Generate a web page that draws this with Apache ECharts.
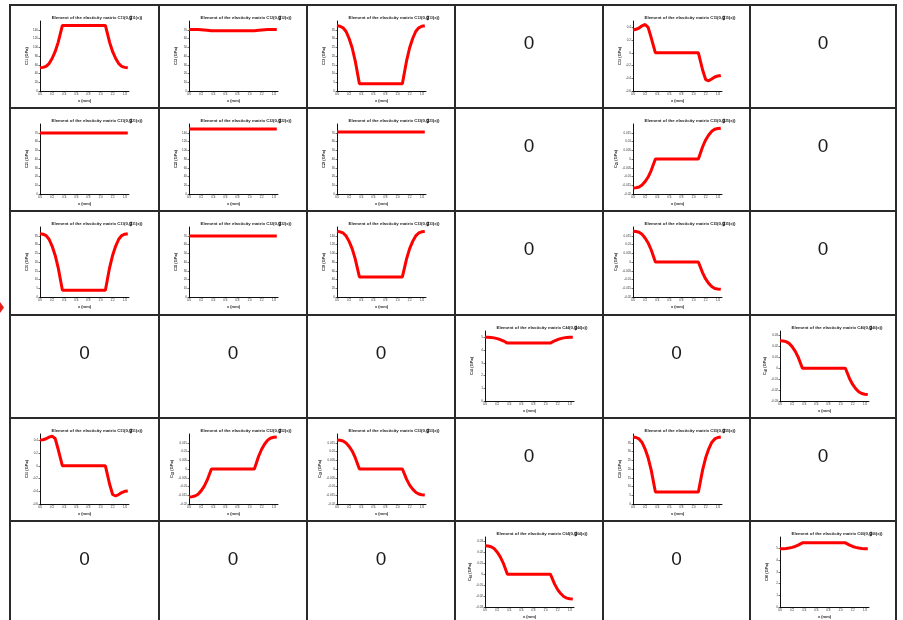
<!DOCTYPE html>
<html><head><meta charset="utf-8">
<script src="https://cdn.jsdelivr.net/npm/echarts@6/dist/echarts.min.js"></script>
<style>html,body{margin:0;padding:0;background:#fff}#c{width:903px;height:620px}</style>
</head><body><div id="c"></div>
<script>
// x positions (mm)
const xValues = [0, 0.05, 0.1, 0.15, 0.2, 0.25, 0.3, 0.37, 0.5, 0.6, 0.7, 0.8, 0.9, 1.0, 1.08, 1.15, 1.2, 1.25, 1.3, 1.35, 1.4, 1.45];
const xTickLabels = ['0.0','0.2','0.4','0.6','0.8','1.0','1.2','1.4'];

// matrix elements (GPa)
const c11 = [53, 54.0, 56.4, 62.7, 74.3, 89.9, 111.2, 150, 150, 150, 150, 150, 150, 150, 150, 111.2, 89.9, 74.3, 62.7, 56.4, 54.0, 53];
const c12 = [70.4, 70.4, 70.35, 70.25, 70.07, 69.83, 69.5, 68.9, 68.9, 68.9, 68.9, 68.9, 68.9, 68.9, 68.9, 69.5, 69.83, 70.07, 70.25, 70.35, 70.4, 70.4];
const c13 = [37.3, 37.0, 36.1, 34.0, 30.0, 24.7, 17.4, 4.2, 4.2, 4.2, 4.2, 4.2, 4.2, 4.2, 4.2, 17.4, 24.7, 30.0, 34.0, 36.1, 37.0, 37.3];
const c15 = [0.36, 0.37, 0.39, 0.425, 0.445, 0.40, 0.24, 0, 0, 0, 0, 0, 0, 0, 0, -0.27, -0.42, -0.44, -0.41, -0.38, -0.365, -0.355];
const c21 = [69.8, 69.8, 69.8, 69.8, 69.8, 69.7, 69.7, 69.7, 69.7, 69.7, 69.7, 69.7, 69.7, 69.7, 69.7, 69.7, 69.7, 69.8, 69.8, 69.8, 69.8, 69.8];
const c22 = [148.7, 148.7, 148.7, 148.7, 148.7, 148.6, 148.6, 148.6, 148.6, 148.6, 148.6, 148.6, 148.6, 148.6, 148.6, 148.6, 148.6, 148.7, 148.7, 148.7, 148.7, 148.7];
const c23 = [70.9, 70.9, 70.9, 70.9, 71.0, 71.0, 71.0, 71.0, 71.0, 71.0, 71.0, 71.0, 71.0, 71.0, 71.0, 71.0, 70.9, 70.9, 70.9, 70.9, 70.9, 70.9];
const c25 = [-0.0166, -0.0164, -0.016, -0.0149, -0.0129, -0.0103, -0.0066, 0, 0, 0, 0, 0, 0, 0, 0, 0.007, 0.0109, 0.0137, 0.0158, 0.017, 0.0174, 0.0176];
const c31 = [36.2, 35.9, 35.1, 33.0, 29.1, 23.9, 16.8, 3.8, 3.8, 3.8, 3.8, 3.8, 3.8, 3.8, 3.8, 16.8, 23.9, 29.1, 33.0, 35.1, 35.9, 36.2];
const c32 = [69.8, 69.8, 69.8, 69.7, 69.7, 69.7, 69.7, 69.7, 69.7, 69.7, 69.7, 69.7, 69.7, 69.7, 69.6, 69.6, 69.6, 69.6, 69.6, 69.6, 69.6, 69.6];
const c33 = [150, 149.0, 146.4, 139.6, 127.1, 110.5, 87.6, 46, 46, 46, 46, 46, 46, 46, 46, 87.6, 110.5, 127.1, 139.6, 146.4, 149.0, 150];
const c35 = [0.0176, 0.0174, 0.017, 0.0158, 0.0137, 0.0109, 0.007, 0, 0, 0, 0, 0, 0, 0, 0, -0.0062, -0.0097, -0.0122, -0.014, -0.0151, -0.0154, -0.0156];
const c44 = [5.0, 5.0, 4.98, 4.96, 4.90, 4.83, 4.73, 4.55, 4.55, 4.55, 4.55, 4.55, 4.55, 4.55, 4.55, 4.73, 4.83, 4.90, 4.96, 4.98, 5.0, 5.0];
const c46 = [0.0252, 0.0249, 0.0243, 0.0227, 0.0197, 0.0156, 0.0101, 0, 0, 0, 0, 0, 0, 0, 0, -0.0096, -0.0149, -0.0187, -0.0216, -0.0232, -0.0238, -0.024];
const c51 = [0.405, 0.41, 0.425, 0.45, 0.467, 0.43, 0.26, 0, 0, 0, 0, 0, 0, 0, 0, -0.29, -0.45, -0.475, -0.45, -0.42, -0.40, -0.395];
const c52 = [-0.016, -0.0158, -0.0154, -0.0144, -0.0125, -0.0099, -0.0064, 0, 0, 0, 0, 0, 0, 0, 0, 0.0073, 0.0113, 0.0143, 0.0165, 0.0177, 0.0181, 0.0183];
const c53 = [0.0166, 0.0164, 0.016, 0.0149, 0.0129, 0.0103, 0.0066, 0, 0, 0, 0, 0, 0, 0, 0, -0.0059, -0.0092, -0.0115, -0.0133, -0.0143, -0.0147, -0.0148];
const c55 = [38.3, 38.0, 37.2, 35.2, 31.4, 26.4, 19.5, 6.9, 6.9, 6.9, 6.9, 6.9, 6.9, 6.9, 6.9, 19.5, 26.4, 31.4, 35.2, 37.2, 38.0, 38.3];
const c64 = [0.026, 0.0257, 0.0251, 0.0234, 0.0203, 0.0161, 0.0104, 0, 0, 0, 0, 0, 0, 0, 0, -0.0091, -0.0141, -0.0177, -0.0204, -0.0219, -0.0225, -0.0227];
const c66 = [5.0, 5.0, 5.02, 5.05, 5.11, 5.19, 5.3, 5.5, 5.5, 5.5, 5.5, 5.5, 5.5, 5.5, 5.5, 5.3, 5.19, 5.11, 5.05, 5.02, 5.0, 5.0];

// which cells hold a plot (row, col, index, data, y range)
const plots = [
  {r:0,c:0,id:'11',d:c11,min:0,max:160,iv:20},
  {r:0,c:1,id:'12',d:c12,min:0,max:80,iv:10},
  {r:0,c:2,id:'13',d:c13,min:0,max:40,iv:5},
  {r:0,c:4,id:'15',d:c15,min:-0.6,max:0.5,iv:0.2},
  {r:1,c:0,id:'21',d:c21,min:0,max:80,iv:10},
  {r:1,c:1,id:'22',d:c22,min:0,max:160,iv:20},
  {r:1,c:2,id:'23',d:c23,min:0,max:80,iv:10},
  {r:1,c:4,id:'25',d:c25,min:-0.02,max:0.02,iv:0.005},
  {r:2,c:0,id:'31',d:c31,min:0,max:40,iv:5},
  {r:2,c:1,id:'32',d:c32,min:0,max:80,iv:10},
  {r:2,c:2,id:'33',d:c33,min:0,max:160,iv:20},
  {r:2,c:4,id:'35',d:c35,min:-0.02,max:0.02,iv:0.005},
  {r:3,c:3,id:'44',d:c44,min:0,max:5.5,iv:1},
  {r:3,c:5,id:'46',d:c46,min:-0.03,max:0.034,iv:0.01},
  {r:4,c:0,id:'51',d:c51,min:-0.6,max:0.5,iv:0.2},
  {r:4,c:1,id:'52',d:c52,min:-0.02,max:0.02,iv:0.005},
  {r:4,c:2,id:'53',d:c53,min:-0.02,max:0.02,iv:0.005},
  {r:4,c:4,id:'55',d:c55,min:0,max:40,iv:5},
  {r:5,c:3,id:'64',d:c64,min:-0.03,max:0.034,iv:0.01},
  {r:5,c:5,id:'66',d:c66,min:0,max:6,iv:1}
];

const colEdges = [10,159,307,455,603,750,896];
const rowEdges = [5,108,211,315,418,521,624];
const FONT = 'Liberation Sans, Arial, sans-serif';

const grid=[], xAxis=[], yAxis=[], series=[], title=[], graphic=[];
const filled = {};
plots.forEach((p,i)=>{
  filled[p.r+'_'+p.c]=true;
  const x0 = colEdges[p.c], y0 = rowEdges[p.r];
  grid.push({left:x0+30, top:y0+16, width:89, height:70, outerBoundsMode:'none'});
  xAxis.push({gridIndex:i, type:'value', min:0, max:1.47, interval:0.2,
    name:'x (mm)', nameLocation:'middle', nameGap:8,
    nameTextStyle:{fontSize:4, fontWeight:'bold', color:'#222', fontFamily:FONT},
    axisLine:{onZero:false, lineStyle:{color:'#111', width:1}},
    axisTick:{length:1.5, lineStyle:{color:'#111', width:0.6}},
    axisLabel:{fontSize:3, margin:2, color:'#333', fontFamily:FONT, showMaxLabel:false,
      formatter:(v)=>{const k=Math.round(v/0.2); return (Math.abs(v-k*0.2)<1e-6 && xTickLabels[k]) ? xTickLabels[k] : '';}},
    splitLine:{show:false}});
  yAxis.push({gridIndex:i, type:'value', min:p.min, max:p.max, interval:p.iv,
    name:'C{s|'+p.id+'} (GPa)', nameLocation:'middle', nameGap:11,
    nameTextStyle:{fontSize:4, fontWeight:'bold', color:'#222', fontFamily:FONT,
      rich:{s:{fontSize:3, fontWeight:'bold', color:'#222', fontFamily:FONT, padding:[2,0,0,0]}}},
    axisLine:{show:true, onZero:false, lineStyle:{color:'#111', width:1}},
    axisTick:{show:true, length:1.5, lineStyle:{color:'#111', width:0.6}},
    axisLabel:{fontSize:3, margin:2, color:'#333', fontFamily:FONT, showMaxLabel:false},
    splitLine:{show:false}});
  series.push({type:'line', xAxisIndex:i, yAxisIndex:i, showSymbol:false, silent:true,
    data: xValues.map((x,k)=>[x,p.d[k]]),
    lineStyle:{color:'#ff0000', width:3}, itemStyle:{color:'#ff0000'}});
  title.push({text:'Element of the elasticity matrix C{s|'+p.id+'}(0,{g|g}{s|'+p.id+'}(x))',
    left:x0+87, top:y0+10, textAlign:'center', padding:0,
    textStyle:{fontSize:4.4, fontWeight:'bold', color:'#222', fontFamily:FONT,
      rich:{s:{fontSize:3.2, fontWeight:'bold', color:'#222', fontFamily:FONT, padding:[2,0,0,0]},
            g:{fontSize:4.8, fontWeight:'bold', color:'#222', fontFamily:FONT, textBorderColor:'#222', textBorderWidth:0.3}}}});
});

// zero cells
for(let r=0;r<6;r++){
  for(let c=0;c<6;c++){
    if(filled[r+'_'+c]) continue;
    const cx=(colEdges[c]+colEdges[c+1])/2, cy=rowEdges[r]+39;
    graphic.push({type:'text', x:cx, y:cy, silent:true,
      style:{text:'0', fontSize:19, fontFamily:FONT, fill:'#1a1a1a', align:'center', verticalAlign:'middle'}});
  }
}
// cell borders
colEdges.forEach(x=>graphic.push({type:'line', silent:true, shape:{x1:x, y1:rowEdges[0]-1, x2:x, y2:620}, style:{stroke:'#2a2a2a', lineWidth:2}}));
rowEdges.slice(0,6).forEach(y=>graphic.push({type:'line', silent:true, shape:{x1:colEdges[0]-1, y1:y, x2:colEdges[6]+1, y2:y}, style:{stroke:'#2a2a2a', lineWidth:2}}));
// small red marker on left edge
graphic.push({type:'polygon', silent:true, shape:{points:[[0,302],[4,307.5],[0,313]]}, style:{fill:'#e8201a'}});

const chart = echarts.init(document.getElementById('c'), null, {renderer:'canvas'});
chart.setOption({animation:false, backgroundColor:'#fff', title, grid, xAxis, yAxis, series, graphic});
</script></body></html>
